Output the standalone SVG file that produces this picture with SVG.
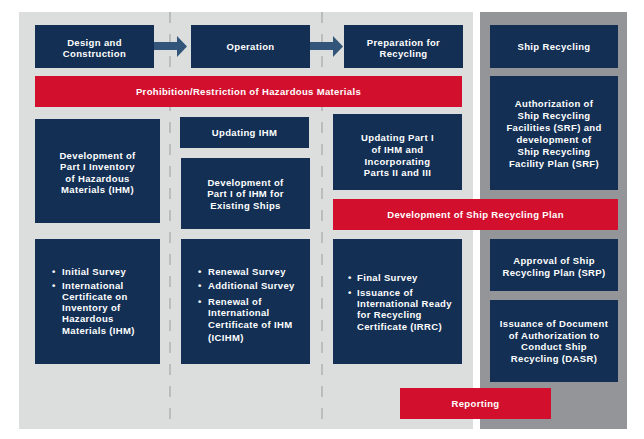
<svg xmlns="http://www.w3.org/2000/svg" width="644" height="439" viewBox="0 0 644 439">
<style>
.n{fill:#132f54}
.r{fill:#d30f2e}
text{font-family:"Liberation Sans",Arial,sans-serif;font-weight:bold;font-size:9.5px;letter-spacing:0.35px;fill:#ffffff}
.c{text-anchor:middle}
.dash{stroke:#a9abad;stroke-width:1.3;stroke-dasharray:11 11;fill:none}
.arr{fill:#335579}
</style>
<rect width="644" height="439" fill="#ffffff"/>
<g id="background">
<rect x="19" y="12" width="454" height="417" fill="#dcdddd"/>
<rect x="480" y="12" width="147" height="417" fill="#939598"/>
</g>
<g id="connectors">
<line class="dash" x1="170" y1="12" x2="170" y2="429"/>
<line class="dash" x1="322" y1="12" x2="322" y2="429"/>
<path class="arr" d="M154,42 H177 V36 L187,46.5 L177,57 V50 H154 Z"/>
<path class="arr" d="M310,42 H333 V36 L343,46.5 L333,57 V50 H310 Z"/>
</g>
<g id="design">
<rect class="n" x="35" y="25" width="119" height="43"/>
<text class="c" x="94.5" y="45.5">Design and</text>
<text class="c" x="94.5" y="57">Construction</text>
</g>
<g id="operation">
<rect class="n" x="191" y="25" width="119" height="43"/>
<text class="c" x="250.5" y="49.5">Operation</text>
</g>
<g id="preparation">
<rect class="n" x="344" y="25" width="119" height="43"/>
<text class="c" x="403.5" y="45.5">Preparation for</text>
<text class="c" x="403.5" y="57">Recycling</text>
</g>
<g id="shiprecycling">
<rect class="n" x="490" y="25" width="128" height="43"/>
<text class="c" x="554" y="49.5">Ship Recycling</text>
</g>
<g id="prohibition">
<rect class="r" x="35" y="76" width="427" height="31"/>
<text class="c" x="248.5" y="94.5">Prohibition/Restriction of Hazardous Materials</text>
</g>
<g id="authorization">
<rect class="n" x="490" y="76" width="128" height="114"/>
<text class="c" x="554" y="106.5">Authorization of</text>
<text class="c" x="554" y="118.5">Ship Recycling</text>
<text class="c" x="554" y="130.5">Facilities (SRF) and</text>
<text class="c" x="554" y="142.5">development of</text>
<text class="c" x="554" y="154.5">Ship Recycling</text>
<text class="c" x="554" y="166.5">Facility Plan (SRF)</text>
</g>
<g id="devpart1">
<rect class="n" x="35" y="119" width="125" height="104"/>
<text class="c" x="97.5" y="158.5">Development of</text>
<text class="c" x="97.5" y="170">Part I Inventory</text>
<text class="c" x="97.5" y="181.5">of Hazardous</text>
<text class="c" x="97.5" y="193">Materials (IHM)</text>
</g>
<g id="updatingihm">
<rect class="n" x="180" y="117" width="129" height="31"/>
<text class="c" x="244.5" y="135.5">Updating IHM</text>
</g>
<g id="devexisting">
<rect class="n" x="181" y="158" width="129" height="71"/>
<text class="c" x="245.5" y="185.5">Development of</text>
<text class="c" x="245.5" y="197">Part I of IHM for</text>
<text class="c" x="245.5" y="208.5">Existing Ships</text>
</g>
<g id="updatingpart1">
<rect class="n" x="333" y="114" width="129" height="76"/>
<text class="c" x="397.5" y="140.5">Updating Part I</text>
<text class="c" x="397.5" y="152.5">of IHM and</text>
<text class="c" x="397.5" y="164.5">Incorporating</text>
<text class="c" x="397.5" y="176">Parts II and III</text>
</g>
<g id="devplan">
<rect class="r" x="333" y="199" width="285" height="31"/>
<text class="c" x="475.5" y="217.5">Development of Ship Recycling Plan</text>
</g>
<g id="initial">
<rect class="n" x="35" y="239" width="125" height="125"/>
<text x="52" y="274.5">•</text><text x="62" y="274.5">Initial Survey</text>
<text x="52" y="288.5">•</text><text x="62" y="288.5">International</text>
<text x="62" y="299.8">Certificate on</text>
<text x="62" y="311.1">Inventory of</text>
<text x="62" y="322.4">Hazardous</text>
<text x="62" y="333.7">Materials (IHM)</text>
</g>
<g id="renewal">
<rect class="n" x="181" y="239" width="129" height="125"/>
<text x="198" y="274.5">•</text><text x="208" y="274.5">Renewal Survey</text>
<text x="198" y="289">•</text><text x="208" y="289">Additional Survey</text>
<text x="198" y="304.5">•</text><text x="208" y="304.5">Renewal of</text>
<text x="208" y="316.3">International</text>
<text x="208" y="328.1">Certificate of IHM</text>
<text x="208" y="340.5">(ICIHM)</text>
</g>
<g id="final">
<rect class="n" x="333" y="239" width="129" height="125"/>
<text x="348" y="280.5">•</text><text x="357" y="280.5">Final Survey</text>
<text x="348" y="296">•</text><text x="357" y="296">Issuance of</text>
<text x="357" y="307.2">International Ready</text>
<text x="357" y="318.4">for Recycling</text>
<text x="357" y="329.6">Certificate (IRRC)</text>
</g>
<g id="approval">
<rect class="n" x="490" y="239" width="128" height="52"/>
<text class="c" x="554" y="263.5">Approval of Ship</text>
<text class="c" x="554" y="275.5">Recycling Plan (SRP)</text>
</g>
<g id="issuance">
<rect class="n" x="490" y="300" width="128" height="82"/>
<text class="c" x="554" y="326.5">Issuance of Document</text>
<text class="c" x="554" y="338.5">of Authorization to</text>
<text class="c" x="554" y="350">Conduct Ship</text>
<text class="c" x="554" y="361.5">Recycling (DASR)</text>
</g>
<g id="reporting">
<rect class="r" x="400" y="388" width="151" height="31"/>
<text class="c" x="475.5" y="406.5">Reporting</text>
</g>
</svg>
